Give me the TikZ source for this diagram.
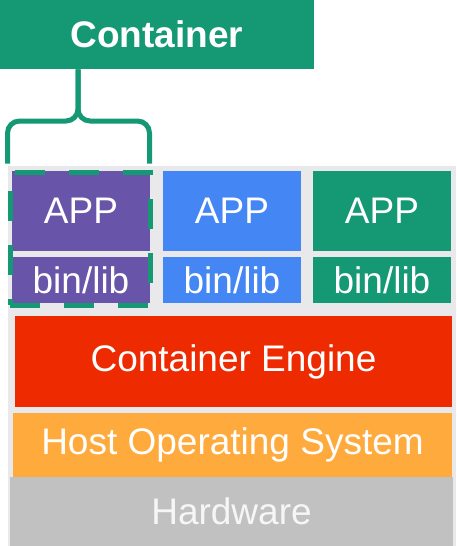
\documentclass[tikz,border=0pt]{standalone}
\usepackage{fontspec}
\setmainfont{Liberation Sans}
\definecolor{ctgreen}{HTML}{159874}
\definecolor{apppurple}{HTML}{6854A9}
\definecolor{appblue}{HTML}{4386F4}
\definecolor{enginered}{HTML}{EE2A00}
\definecolor{hostorange}{HTML}{FFAA3C}
\definecolor{hwgrey}{HTML}{C1C1C1}
\definecolor{panelgrey}{HTML}{E9E9EB}
\begin{document}
\begin{tikzpicture}[x=0.5pt,y=-0.5pt,
    layer/.style={inner sep=0pt,text=white,font=\fontsize{18.5}{22}\selectfont},
    appbox/.style={layer,minimum width=69pt,minimum height=40pt},
    libbox/.style={layer,minimum width=69pt,minimum height=23pt},
    bracket/.style={draw=ctgreen,line width=2.5pt,rounded corners=6pt}]
    \useasboundingbox (0,0) rectangle (456,546);
    \fill[white] (0,0) rectangle (456,546);
    \fill[panelgrey] (8,166) rectangle (456,546);
    \node[layer,fill=ctgreen,minimum width=157pt,minimum height=34.5pt,font=\fontsize{18.5}{22}\selectfont\bfseries] (container) at (157,34.5) {Container};
    \node[appbox,fill=apppurple] (app1) at (81,211) {APP};
    \node[libbox,fill=apppurple] (lib1) at (81,280) {bin/lib};
    \node[appbox,fill=appblue] (app2) at (232,211) {APP};
    \node[libbox,fill=appblue] (lib2) at (232,280) {bin/lib};
    \node[appbox,fill=ctgreen] (app3) at (382,211) {APP};
    \node[libbox,fill=ctgreen] (lib3) at (382,280) {bin/lib};
    \node[layer,fill=enginered,minimum width=218.5pt,minimum height=45.5pt] (engine) at (233.5,361.5) {Container Engine};
    \node[layer,fill=hostorange,minimum width=219.5pt,minimum height=32pt] (host) at (232.5,445) {Host Operating System};
    \node[layer,fill=hwgrey,minimum width=221.5pt,minimum height=34.5pt,text=white!93!gray] (hardware) at (231.5,511.5) {Hardware};
    \node[draw=ctgreen,line width=2.5pt,dash pattern=on 15pt off 12pt,inner sep=0pt,minimum width=70pt,minimum height=66.5pt] (group) at (80,238.5) {};
    \coordinate (brace) at (78,121);
    \draw[bracket] ([yshift=3pt]group.north west) |- (brace) -- (brace |- container.south);
    \draw[bracket] ([yshift=3pt,xshift=-1.5pt]group.north east) |- (brace) -- (brace |- container.south);
\end{tikzpicture}
\end{document}
